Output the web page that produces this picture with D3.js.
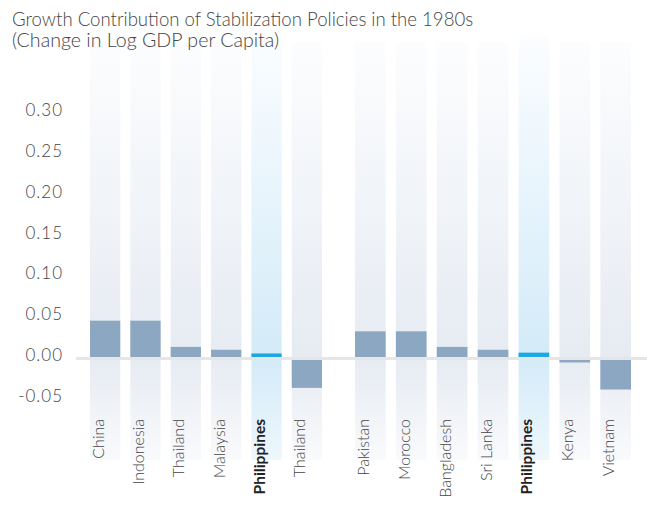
<!DOCTYPE html>
<html>
<head>
<meta charset="utf-8">
<script src="https://cdn.jsdelivr.net/npm/d3@7"></script>
<style>
  body { margin: 0; background: #fff; }
  text { font-family: Lato, 'Open Sans', sans-serif; }
</style>
</head>
<body>
<div id="chart"></div>
<script>
// data
const groupA = ['China', 'Indonesia', 'Thailand', 'Malaysia', 'Philippines', 'Thailand'];
const valuesA = [0.045, 0.045, 0.013, 0.0095, 0.005, -0.037];
const groupB = ['Pakistan', 'Morocco', 'Bangladesh', 'Sri Lanka', 'Philippines', 'Kenya', 'Vietnam'];
const valuesB = [0.032, 0.032, 0.013, 0.0095, 0.006, -0.006, -0.039];
const yTicks = [-0.05, 0, 0.05, 0.1, 0.15, 0.2, 0.25, 0.3];
const highlight = 'Philippines';
const title = 'Growth Contribution of Stabilization Policies in the 1980s';
const subtitle = '(Change in Log GDP per Capita)';

function drawChart() {
  const dimensions = {
    width: 647,
    height: 529,
    plotTop: 42,
    plotBottom: 460,
  };

  const yScale = d3.scaleLinear()
    .domain([-0.125, 0.385])
    .range([dimensions.plotBottom, dimensions.plotTop]);

  const xA = d3.scaleBand()
    .domain(d3.range(groupA.length))
    .range([90, 322])
    .paddingInner(0.25);

  const xB = d3.scaleBand()
    .domain(d3.range(groupB.length))
    .range([355, 631])
    .paddingInner(0.25);

  const wrapper = d3.select('#chart')
    .append('svg')
    .attr('width', dimensions.width)
    .attr('height', dimensions.height);

  // gradients for the background columns
  const defs = wrapper.append('defs');
  const zeroStop = (yScale(0) - dimensions.plotTop) / (dimensions.plotBottom - dimensions.plotTop);
  const makeGradient = (id, stops) => {
    const g = defs.append('linearGradient')
      .attr('id', id)
      .attr('x1', 0).attr('x2', 0).attr('y1', 0).attr('y2', 1);
    g.selectAll('stop')
      .data(stops)
      .join('stop')
      .attr('offset', (d) => d[0])
      .attr('stop-color', (d) => d[1]);
  };
  makeGradient('colGrey', [[0, '#fcfdfe'], [zeroStop, '#e6ebf2'], [1, '#f9fafc']]);
  makeGradient('colBlue', [[0, '#fbfdff'], [zeroStop, '#d3ebf8'], [1, '#eef7fc']]);

  const bounds = wrapper.append('g');

  const rows = [
    ...groupA.map((name, i) => ({ name, value: valuesA[i], x: xA(i), w: xA.bandwidth() })),
    ...groupB.map((name, i) => ({ name, value: valuesB[i], x: xB(i), w: xB.bandwidth() })),
  ];

  // background columns
  bounds.selectAll('rect.col')
    .data(rows)
    .join('rect')
    .attr('class', 'col')
    .attr('x', (d) => d.x)
    .attr('width', (d) => d.w)
    .attr('y', (d) => d.name === highlight ? dimensions.plotTop - 5 : dimensions.plotTop)
    .attr('height', (d) => dimensions.plotBottom - dimensions.plotTop + (d.name === highlight ? 5 : 0))
    .attr('fill', (d) => d.name === highlight ? 'url(#colBlue)' : 'url(#colGrey)');

  // bars
  bounds.selectAll('rect.bar')
    .data(rows)
    .join('rect')
    .attr('class', 'bar')
    .attr('x', (d) => d.x)
    .attr('width', (d) => d.w)
    .attr('y', (d) => yScale(Math.max(0, d.value)))
    .attr('height', (d) => Math.abs(yScale(d.value) - yScale(0)))
    .attr('fill', (d) => d.name === highlight ? '#1ea8e2' : '#8ca7c2');

  // zero line
  bounds.append('line')
    .attr('x1', 76)
    .attr('x2', dimensions.width)
    .attr('y1', yScale(0) + 1)
    .attr('y2', yScale(0) + 1)
    .attr('stroke', '#e6e6e6')
    .attr('stroke-width', 3);

  // y axis
  const yAxisGenerator = d3.axisLeft(yScale)
    .tickValues(yTicks)
    .tickFormat((d) => d3.format('.2f')(d).replace('−', '-'))
    .tickSize(0)
    .tickPadding(-1);

  const yAxis = bounds.append('g')
    .attr('transform', 'translate(62,0)')
    .call(yAxisGenerator);
  yAxis.select('.domain').remove();
  yAxis.selectAll('text')
    .attr('dy', '0.2em')
    .attr('fill', '#444')
    .style('font-size', '17px')
    .style('letter-spacing', '1px')
    .style('font-weight', 300)
    .style('font-family', "Lato, 'Open Sans', sans-serif");

  // x labels
  bounds.selectAll('text.xlabel')
    .data(rows)
    .join('text')
    .attr('class', 'xlabel')
    .attr('transform', (d) => `translate(${d.x + d.w / 2 - 1.5}, 419) rotate(-90)`)
    .attr('text-anchor', 'end')
    .attr('fill', (d) => d.name === highlight ? '#222' : '#444')
    .style('font-size', (d) => d.name === highlight ? '15.5px' : '16px')
    .style('font-weight', (d) => d.name === highlight ? 700 : 300)
    .text((d) => d.name);

  // title
  wrapper.append('text')
    .attr('x', 12)
    .attr('y', 26)
    .attr('fill', '#444')
    .style('font-size', '18.6px')
    .style('font-weight', 300)
    .text(title);

  wrapper.append('text')
    .attr('x', 12)
    .attr('y', 47)
    .attr('fill', '#444')
    .style('font-size', '19.6px')
    .style('font-weight', 300)
    .text(subtitle);
}

drawChart();
</script>
</body>
</html>
